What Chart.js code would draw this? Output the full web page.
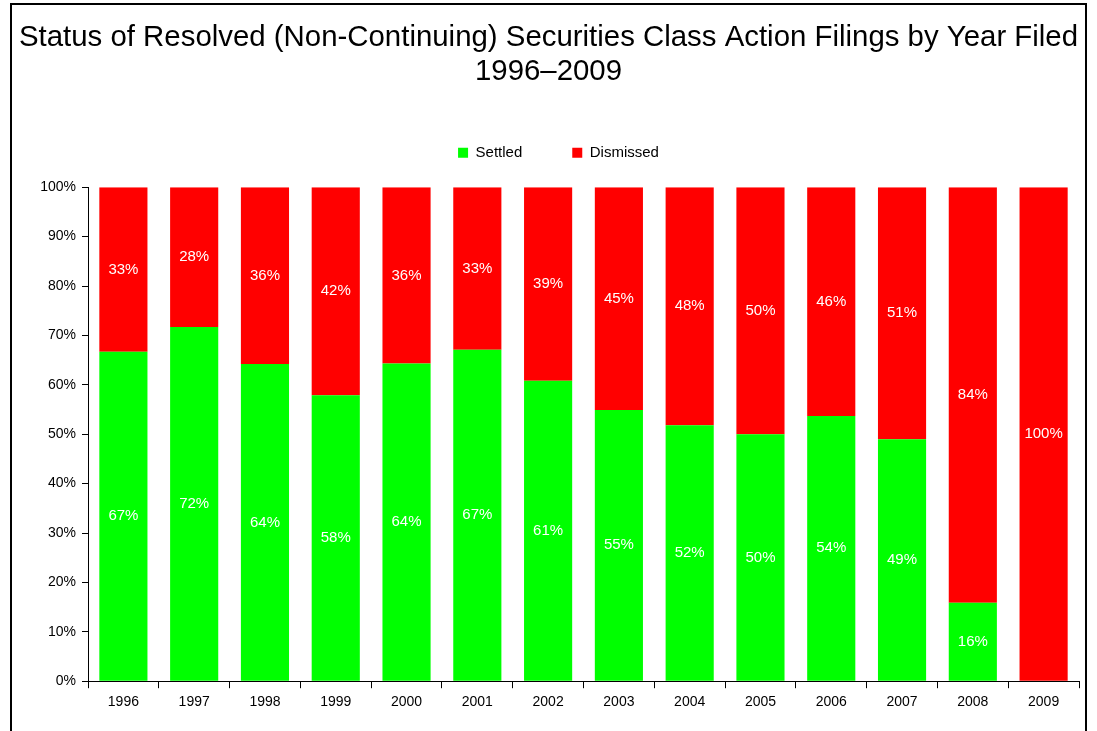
<!DOCTYPE html>
<html lang="en">
<head>
    <meta charset="UTF-8">
    <title>Status of Resolved Securities Class Action Filings</title>
    <script src="https://cdn.jsdelivr.net/npm/chart.js"></script>
    <style>
        html, body { margin: 0; padding: 0; background: #fff; overflow: hidden; }
        .wrap { position: relative; width: 1097px; height: 731px; }
        .frame { position: absolute; left: 10px; top: 3px; width: 1073px; height: 800px;
                 border: 2px solid #000; pointer-events: none; }
    </style>
</head>
<body>
    <div class="wrap">
        <canvas id="chart" width="1097" height="731"></canvas>
        <div class="frame"></div>
    </div>

    <script>
        const years = ["1996", "1997", "1998", "1999", "2000", "2001", "2002", "2003", "2004", "2005", "2006", "2007", "2008", "2009"];
        const settled = [66.7, 71.7, 64.2, 57.9, 64.3, 67.1, 60.8, 54.9, 51.8, 50.0, 53.7, 49.0, 15.9, 0];
        const dismissed = [33.3, 28.3, 35.8, 42.1, 35.7, 32.9, 39.2, 45.1, 48.2, 50.0, 46.3, 51.0, 84.1, 100];
        const yTicks = [0, 10, 20, 30, 40, 50, 60, 70, 80, 90, 100];

        const FONT = "'Liberation Sans', Arial, sans-serif";

        // white % labels in the middle of each bar segment
        const barLabels = {
            id: "barLabels",
            afterDatasetsDraw(chart) {
                const ctx = chart.ctx;
                ctx.save();
                ctx.fillStyle = "#fff";
                ctx.font = "15px " + FONT;
                ctx.textAlign = "center";
                ctx.textBaseline = "middle";
                chart.data.datasets.forEach((ds, i) => {
                    chart.getDatasetMeta(i).data.forEach((bar, j) => {
                        const v = ds.data[j];
                        if (!v) return;
                        ctx.fillText(Math.round(v) + "%", bar.x, (bar.y + bar.base) / 2);
                    });
                });
                ctx.restore();
            }
        };

        // legend: fixed height, nudged right a little
        const legendTweak = {
            id: "legendTweak",
            beforeInit(chart) {
                const lg = chart.legend;
                const fit = lg.fit;
                lg.fit = function () {
                    fit.call(lg);
                    this.height = 92;
                };
                const draw = lg.draw;
                lg.draw = function () {
                    const ctx = chart.ctx;
                    ctx.save();
                    ctx.translate(10, 0);
                    draw.call(lg);
                    ctx.restore();
                };
            }
        };

        new Chart(document.getElementById("chart"), {
            type: "bar",
            data: {
                labels: years,
                datasets: [
                    { label: "Settled", data: settled, backgroundColor: "#00ff00" },
                    { label: "Dismissed", data: dismissed, backgroundColor: "#ff0000" }
                ]
            },
            plugins: [barLabels, legendTweak],
            options: {
                responsive: false,
                animation: false,
                layout: { padding: { left: 18, right: 18, top: 0, bottom: 14 } },
                datasets: { bar: { barPercentage: 0.68, categoryPercentage: 1.0 } },
                plugins: {
                    title: {
                        display: true,
                        text: ["Status of Resolved (Non-Continuing) Securities Class Action Filings by Year Filed", "1996\u20132009"],
                        color: "#000",
                        font: { family: FONT, size: 29.4, weight: "normal", lineHeight: 1.16 },
                        padding: { top: 21, bottom: 6 }
                    },
                    legend: {
                        position: "top",
                        labels: {
                            color: "#000",
                            font: { family: FONT, size: 15 },
                            boxWidth: 10,
                            boxHeight: 10,
                            padding: 50
                        }
                    },
                    tooltip: { enabled: false }
                },
                scales: {
                    x: {
                        stacked: true,
                        grid: { display: true, drawOnChartArea: false, offset: true, tickLength: 7, color: "#000" },
                        border: { display: true, color: "#000", width: 1 },
                        ticks: { color: "#000", font: { family: FONT, size: 14 }, padding: 6 }
                    },
                    y: {
                        stacked: true,
                        min: 0,
                        max: 100,
                        afterBuildTicks(scale) {
                            scale.ticks = yTicks.map(v => ({ value: v }));
                        },
                        afterFit(scale) { scale.width = 70; },
                        grid: { display: true, drawOnChartArea: false, tickLength: 6, color: "#000" },
                        border: { display: true, color: "#000", width: 1 },
                        ticks: {
                            color: "#000",
                            font: { family: FONT, size: 14 },
                            padding: 6,
                            callback: v => v + "%"
                        }
                    }
                }
            }
        });
    </script>
</body>
</html>
